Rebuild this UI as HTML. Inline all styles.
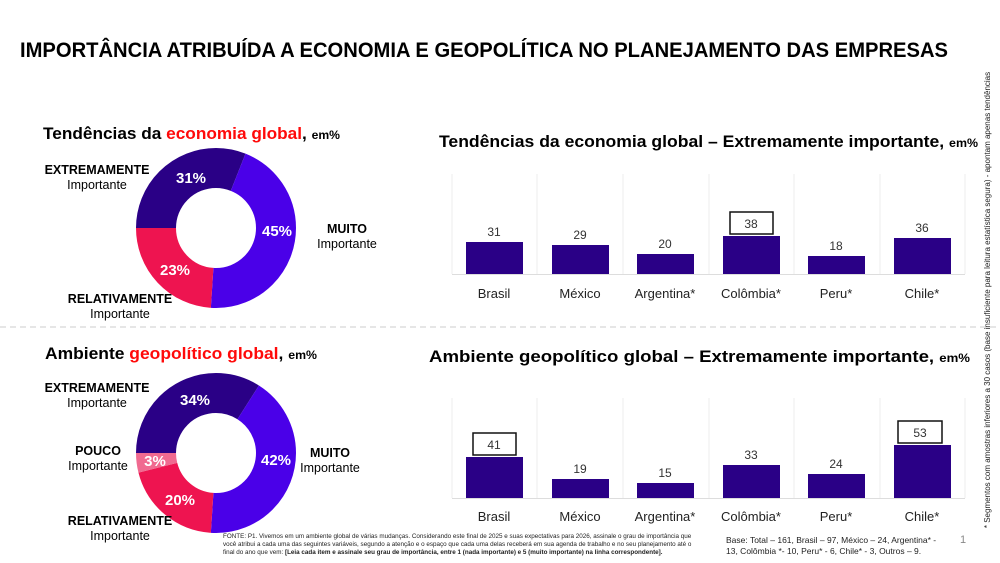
<!DOCTYPE html>
<html><head><meta charset="utf-8"><style>
body{margin:0;background:#fff;}
svg{display:block;font-family:"Liberation Sans",sans-serif;}
</style></head><body>
<svg width="1000" height="563" viewBox="0 0 1000 563" xmlns="http://www.w3.org/2000/svg">
<text x="20" y="57" font-size="21" font-weight="bold" fill="#000" textLength="928" lengthAdjust="spacingAndGlyphs">IMPORTÂNCIA ATRIBUÍDA A ECONOMIA E GEOPOLÍTICA NO PLANEJAMENTO DAS EMPRESAS</text>
<line x1="0" y1="327" x2="1000" y2="327" stroke="#ccc" stroke-dasharray="6,4"/>
<text transform="translate(990,300) rotate(-90)" font-size="8" fill="#222" text-anchor="middle">* Segmentos com amostras inferiores a 30 casos (base insuficiente para leitura estatística segura) - apontam apenas tendências</text>

<!-- Donut 1 -->
<text x="43" y="139" font-size="17" font-weight="bold" textLength="297" lengthAdjust="spacingAndGlyphs">Tendências da <tspan fill="#ff0a0a">economia global</tspan>, <tspan font-size="12">em%</tspan></text>
<g transform="translate(216,228) rotate(180)" fill="none" stroke-width="40">
<circle r="60" stroke="#2a0086" stroke-dasharray="116.87 400" stroke-dashoffset="0"/>
<circle r="60" stroke="#4a00e8" stroke-dasharray="169.65 400" stroke-dashoffset="-116.87"/>
<circle r="60" stroke="#ee1450" stroke-dasharray="90.48 400" stroke-dashoffset="-286.52"/>
</g>
<g fill="#fff" font-size="15" font-weight="bold" text-anchor="middle">
<text x="191" y="183">31%</text><text x="277" y="236">45%</text><text x="175" y="275">23%</text>
</g>
<g font-size="12.5" text-anchor="middle">
<text x="97" y="174" font-weight="bold">EXTREMAMENTE</text><text x="97" y="189">Importante</text>
<text x="347" y="233" font-weight="bold">MUITO</text><text x="347" y="248">Importante</text>
<text x="120" y="303" font-weight="bold">RELATIVAMENTE</text><text x="120" y="318">Importante</text>
</g>

<!-- Donut 2 -->
<text x="45" y="359" font-size="17" font-weight="bold" textLength="272" lengthAdjust="spacingAndGlyphs">Ambiente <tspan fill="#ff0a0a">geopolítico global</tspan>, <tspan font-size="12">em%</tspan></text>
<g transform="translate(216,453) rotate(180)" fill="none" stroke-width="40">
<circle r="60" stroke="#2a0086" stroke-dasharray="128.18 400" stroke-dashoffset="0"/>
<circle r="60" stroke="#4a00e8" stroke-dasharray="158.34 400" stroke-dashoffset="-128.18"/>
<circle r="60" stroke="#ee1450" stroke-dasharray="75.40 400" stroke-dashoffset="-286.52"/>
<circle r="60" stroke="#f06a90" stroke-dasharray="15.08 400" stroke-dashoffset="-361.92"/>
</g>
<g fill="#fff" font-size="15" font-weight="bold" text-anchor="middle">
<text x="195" y="405">34%</text><text x="276" y="465">42%</text><text x="155" y="466">3%</text><text x="180" y="505">20%</text>
</g>
<g font-size="12.5" text-anchor="middle">
<text x="97" y="392" font-weight="bold">EXTREMAMENTE</text><text x="97" y="407">Importante</text>
<text x="98" y="455" font-weight="bold">POUCO</text><text x="98" y="470">Importante</text>
<text x="330" y="457" font-weight="bold">MUITO</text><text x="330" y="472">Importante</text>
<text x="120" y="525" font-weight="bold">RELATIVAMENTE</text><text x="120" y="540">Importante</text>
</g>

<!-- Bar chart 1 -->
<text x="439" y="147" font-size="17" font-weight="bold" textLength="539" lengthAdjust="spacingAndGlyphs">Tendências da economia global – Extremamente importante, <tspan font-size="12">em%</tspan></text>
<g stroke="#eee" stroke-width="1">
<line x1="452" y1="174" x2="452" y2="274"/><line x1="537" y1="174" x2="537" y2="274"/><line x1="623" y1="174" x2="623" y2="274"/><line x1="709" y1="174" x2="709" y2="274"/><line x1="794" y1="174" x2="794" y2="274"/><line x1="880" y1="174" x2="880" y2="274"/><line x1="965" y1="174" x2="965" y2="274"/>
</g>
<line x1="452" y1="274.5" x2="965" y2="274.5" stroke="#ddd"/>
<g fill="#2a0086">
<rect x="466" y="242" width="57" height="32"/><rect x="552" y="245" width="57" height="29"/><rect x="637" y="254" width="57" height="20"/><rect x="723" y="236" width="57" height="38"/><rect x="808" y="256" width="57" height="18"/><rect x="894" y="238" width="57" height="36"/>
</g>
<rect x="730" y="212" width="43" height="22" fill="#fff" stroke="#111" stroke-width="1.5"/>
<g font-size="12" fill="#333" text-anchor="middle">
<text x="494" y="236">31</text><text x="580" y="239">29</text><text x="665" y="248">20</text><text x="751" y="228">38</text><text x="836" y="250">18</text><text x="922" y="232">36</text>
</g>
<g font-size="13" fill="#222" text-anchor="middle">
<text x="494" y="298">Brasil</text><text x="580" y="298">México</text><text x="665" y="298">Argentina*</text><text x="751" y="298">Colômbia*</text><text x="836" y="298">Peru*</text><text x="922" y="298">Chile*</text>
</g>

<!-- Bar chart 2 -->
<text x="429" y="362" font-size="17" font-weight="bold" textLength="541" lengthAdjust="spacingAndGlyphs">Ambiente geopolítico global – Extremamente importante, <tspan font-size="12">em%</tspan></text>
<g stroke="#eee" stroke-width="1">
<line x1="452" y1="398" x2="452" y2="498"/><line x1="537" y1="398" x2="537" y2="498"/><line x1="623" y1="398" x2="623" y2="498"/><line x1="709" y1="398" x2="709" y2="498"/><line x1="794" y1="398" x2="794" y2="498"/><line x1="880" y1="398" x2="880" y2="498"/><line x1="965" y1="398" x2="965" y2="498"/>
</g>
<line x1="452" y1="498.5" x2="965" y2="498.5" stroke="#ddd"/>
<g fill="#2a0086">
<rect x="466" y="457" width="57" height="41"/><rect x="552" y="479" width="57" height="19"/><rect x="637" y="483" width="57" height="15"/><rect x="723" y="465" width="57" height="33"/><rect x="808" y="474" width="57" height="24"/><rect x="894" y="445" width="57" height="53"/>
</g>
<rect x="473" y="433" width="43" height="22" fill="#fff" stroke="#111" stroke-width="1.5"/>
<rect x="898" y="421" width="44" height="22" fill="#fff" stroke="#111" stroke-width="1.5"/>
<g font-size="12" fill="#333" text-anchor="middle">
<text x="494" y="449">41</text><text x="580" y="473">19</text><text x="665" y="477">15</text><text x="751" y="459">33</text><text x="836" y="468">24</text><text x="920" y="437">53</text>
</g>
<g font-size="13" fill="#222" text-anchor="middle">
<text x="494" y="521">Brasil</text><text x="580" y="521">México</text><text x="665" y="521">Argentina*</text><text x="751" y="521">Colômbia*</text><text x="836" y="521">Peru*</text><text x="922" y="521">Chile*</text>
</g>

<!-- Footer -->
<g font-size="6.3" fill="#222">
<text x="223" y="538">FONTE: P1. Vivemos em um ambiente global de várias mudanças. Considerando este final de 2025 e suas expectativas para 2026, assinale o grau de importância que</text>
<text x="223" y="546">você atribui a cada uma das seguintes variáveis, segundo a atenção e o espaço que cada uma delas receberá em sua agenda de trabalho e no seu planejamento até o</text>
<text x="223" y="554">final do ano que vem: <tspan font-weight="bold">[Leia cada item e assinale seu grau de importância, entre 1 (nada importante) e 5 (muito importante) na linha correspondente].</tspan></text>
</g>
<g font-size="8.5" fill="#222">
<text x="726" y="543">Base: Total – 161, Brasil – 97, México – 24, Argentina* -</text>
<text x="726" y="554">13, Colômbia *- 10, Peru* - 6, Chile* - 3, Outros – 9.</text>
</g>
<text x="960" y="543" font-size="11" fill="#888">1</text>
</svg>
</body></html>
